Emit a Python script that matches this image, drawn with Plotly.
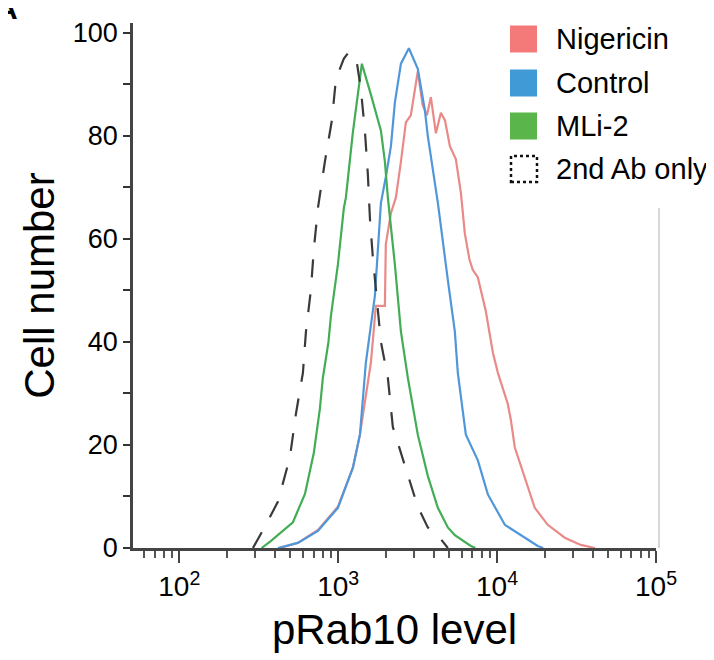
import plotly.graph_objects as go

# ---- data ----
nig_x = [430, 558, 746, 996, 1238, 1371, 1607, 1727, 1968, 1995, 2148, 2307, 2483, 2667, 2866,
         3170, 3400, 3620, 3831, 4121, 4430, 4700, 5047, 5500, 5916, 6270, 6700, 7031, 7568,
         8492, 9400, 10116, 11670, 12190, 12930, 14930, 17260, 20840, 26660, 33650, 41200]
nig_y = [0, 1, 3.5, 8, 15.6, 22, 36, 47, 47, 59, 65, 68, 75, 82.6, 84,
         92.5, 86, 84, 87.5, 80.5, 84.5, 83, 78, 75.5, 69, 61, 56, 54, 52.5,
         46, 38, 34, 28, 25, 19.5, 13.5, 7.8, 4.5, 2, 0.6, 0]

ctl_x = [418, 558, 746, 996, 1238, 1371, 1494, 1703, 1858, 1995, 2148, 2275, 2483, 2786,
         3170, 3512, 3664, 3945, 4240, 4900, 5423, 5662, 6360, 7568, 8750, 11190, 14930, 18030, 19500]
ctl_y = [0, 1, 3.3, 7.8, 15.6, 22, 36, 49, 67, 72, 78, 86.5, 94, 97,
         93, 85, 80, 73.6, 67, 52, 42, 34, 22, 17, 10.4, 4.5, 2, 0.4, 0]

mli_x = [330, 378, 519, 618, 703, 767, 801, 869, 900, 996, 1086, 1118, 1238, 1331, 1410,
         1607, 1858, 1968, 2055, 2275, 2483, 2746, 3170, 3664, 4240, 4900, 5423, 6839, 7300]
mli_y = [0, 1.4, 5, 10.5, 18.5, 27, 33, 40, 45, 55, 66, 68, 80.7, 88.5, 94,
         88, 81, 75, 68, 55, 42, 33, 22, 14, 7.8, 4, 2.5, 0.4, 0]

ab2_x = [291, 351, 418, 497, 542, 600, 627, 673, 703, 746, 825, 913, 968, 1086, 1151, 1293,
         1390, 1473, 1538, 1584, 1652, 1760, 1858, 2055, 2208, 2630, 3170, 3664, 4430, 4900]
ab2_y = [0, 4.5, 9, 17.6, 26, 34, 42, 50, 58, 66, 75, 83, 91, 95, 96, 95.5,
         89, 81, 72.5, 64, 56.5, 48, 40, 33, 23.5, 16, 8, 4, 1.7, 0]

series_names = ["Nigericin", "Control", "MLi-2", "2nd Ab only"]
legend_colors = ["#F47A7A", "#3F9AD6", "#5AB54B", "#000000"]
line_colors = ["#E98A89", "#4F97DA", "#43AD55", "#3A3A3A"]

y_major = [0, 20, 40, 60, 80, 100]
y_labels = ["0", "20", "40", "60", "80", "100"]
y_minor = [10, 30, 50, 70, 90]

x_major = [100, 1000, 10000, 100000]
x_labels = ["10<sup>2</sup>", "10<sup>3</sup>", "10<sup>4</sup>", "10<sup>5</sup>"]
x_minor = [60, 70, 80, 90] + [m * 100 for m in range(2, 10)] + \
          [m * 1000 for m in range(2, 10)] + [m * 10000 for m in range(2, 10)]

FONT = "Liberation Sans, Arial, sans-serif"

fig = go.Figure()
data = [(nig_x, nig_y), (ctl_x, ctl_y), (mli_x, mli_y)]
for (xs, ys), name, col in zip(data, series_names[:3], line_colors[:3]):
    fig.add_trace(go.Scatter(x=xs, y=ys, mode="lines", name=name, showlegend=False,
                             line=dict(color=col, width=2.2)))
fig.add_trace(go.Scatter(x=ab2_x, y=ab2_y, mode="lines", name=series_names[3], showlegend=False,
                         line=dict(color=line_colors[3], width=2.2, dash="18px,17px")))

# ---- custom legend (squares + labels) ----
L, R, T, B = 125, 648, 15, 540
def px(xp):
    return (xp - L) / (R - L)
def py(yp):
    return (B - yp) / (B - T)

row_y = [31, 75, 118, 161]
for i, (name, col) in enumerate(zip(series_names, legend_colors)):
    cy = row_y[i]
    if i < 3:
        fig.add_shape(type="rect", xref="paper", yref="paper",
                      x0=px(502), x1=px(529), y0=py(cy + 13.5), y1=py(cy - 13.5),
                      fillcolor=col, line=dict(color=col, width=0))
    else:
        fig.add_shape(type="rect", xref="paper", yref="paper",
                      x0=px(503), x1=px(529), y0=py(cy + 13), y1=py(cy - 13),
                      fillcolor="rgba(0,0,0,0)", line=dict(color="#111", width=2.5, dash="dot"))
    fig.add_annotation(text=name, xref="paper", yref="paper", x=px(546), y=py(cy),
                       xanchor="left", yanchor="middle", showarrow=False,
                       font=dict(size=29, color="black", family=FONT))

# light vertical line at right edge
fig.add_shape(type="line", xref="paper", yref="paper", x0=px(651), x1=px(651),
              y0=py(540), y1=py(200), line=dict(color="#D8D8D8", width=2))

# cropped panel letter
fig.add_annotation(text="<b>A</b>", xref="paper", yref="paper", x=px(12), y=py(0),
                   xanchor="right", yanchor="middle", showarrow=False,
                   font=dict(size=30, color="black", family=FONT))

fig.update_layout(
    width=714, height=660,
    margin=dict(l=L, r=714 - R, t=T, b=660 - B, autoexpand=False),
    paper_bgcolor="white", plot_bgcolor="white",
    font=dict(family=FONT, color="black"),
    showlegend=False,
)
fig.update_xaxes(
    type="log", range=[1.709, 5.0], automargin=False,
    tickmode="array", tickvals=x_major, ticktext=x_labels,
    ticks="outside", ticklen=12, tickwidth=2, tickcolor="#444",
    showline=True, linewidth=2.5, linecolor="#444",
    showgrid=False, zeroline=False,
    tickfont=dict(size=28, family=FONT, color="black"),
    minor=dict(tickmode="array", tickvals=x_minor, ticks="outside", ticklen=7,
               tickwidth=2, tickcolor="#555", showgrid=False),
    title=dict(text="pRab10 level", font=dict(size=42, family=FONT, color="black"), standoff=14),
)
fig.update_yaxes(
    range=[0, 101.9], automargin=False,
    tickmode="array", tickvals=y_major, ticktext=y_labels,
    ticks="outside", ticklen=7, tickwidth=2, tickcolor="#333",
    showline=True, linewidth=2.5, linecolor="#444",
    showgrid=False, zeroline=False,
    tickfont=dict(size=27, family=FONT, color="black"),
    minor=dict(tickmode="array", tickvals=y_minor, ticks="outside", ticklen=7,
               tickwidth=2, tickcolor="#333", showgrid=False),
    title=dict(text="Cell number", font=dict(size=42, family=FONT, color="black"), standoff=6),
)

fig.write_html("out.html")
